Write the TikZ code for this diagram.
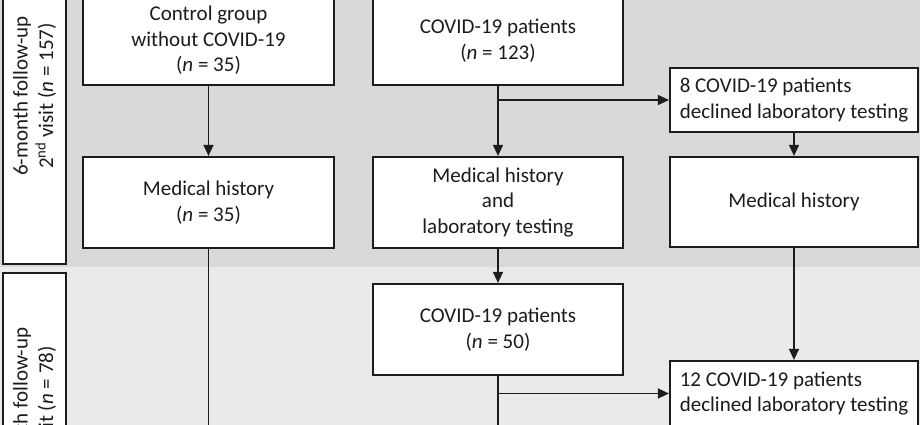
\documentclass[tikz,border=0pt]{standalone}
\usepackage{fontspec}
\setmainfont{Carlito}
\usetikzlibrary{arrows.meta}
\definecolor{bandA}{HTML}{D9D9D9}
\definecolor{bandB}{HTML}{E9EBEA}
\definecolor{ink}{HTML}{1C1C1C}
\tikzset{
  box/.style={draw=ink, line width=2.2pt, fill=white, inner sep=0pt, align=center,
    font=\fontsize{21}{25.5}\selectfont, text=ink},
  lbox/.style={box, align=left},
  conn/.style={draw=ink, line width=1.4pt},
  arr/.style={conn, -{Triangle[length=11pt,width=10pt]}}
}
\begin{document}
\begin{tikzpicture}[x=1pt,y=-1pt]
\useasboundingbox (0,0) rectangle (920,425);
\clip (0,0) rectangle (920,425);
\fill[bandA] (-2,-2) rectangle (922,267);
\fill[bandB] (-2,267) rectangle (922,427);

% stage labels
\node[box, rotate=90, minimum width=336pt, minimum height=63pt] (lab1) at (34.5,96)
  {6-month follow-up\\2\textsuperscript{nd} visit (\textit{n} = 157)};
\node[box, rotate=90, minimum width=279pt, minimum height=63pt] (lab2) at (34.5,412.5)
  {12-month follow-up\\3\textsuperscript{rd} visit (\textit{n} = 78)};

% top row
\node[box, minimum width=251pt, minimum height=89pt] (ctrl) at (208.5,40.5)
  {Control group\\without COVID-19\\(\textit{n} = 35)};
\node[box, minimum width=250pt, minimum height=89pt] (cov) at (498,40.5)
  {COVID-19 patients\\(\textit{n} = 123)};
\node[lbox, minimum width=248pt, minimum height=64pt] (dec1) at (794,100)
  {8 COVID-19 patients\\declined laboratory testing};

% second row
\node[box, minimum width=251pt, minimum height=91pt] (mhL) at (208.5,202.5)
  {Medical history\\(\textit{n} = 35)};
\node[box, minimum width=250pt, minimum height=91pt] (mhM) at (498,202.5)
  {Medical history\\and\\laboratory testing};
\node[box, minimum width=248pt, minimum height=90pt] (mhR) at (794,202)
  {Medical history};

% lower band
\node[box, minimum width=250pt, minimum height=91pt] (c50) at (498,329.5)
  {COVID-19 patients\\(\textit{n} = 50)};
\node[lbox, minimum width=248pt, minimum height=65pt] (dec2) at (794,393.5)
  {12 COVID-19 patients\\declined laboratory testing};

% connectors
\coordinate (b1) at (cov.south |- dec1.west);
\coordinate (b2) at (c50.south |- dec2.west);
\coordinate (endL) at (208.5,440);
\coordinate (endM) at (498,440);
\draw[arr] (ctrl) -- (mhL);
\draw[arr] (cov) -- (mhM);
\draw[arr] (b1) -- (dec1);
\draw[arr] (dec1) -- (mhR);
\draw[arr] (mhM) -- (c50);
\draw[arr] (mhR) -- (dec2);
\draw[conn] (mhL) -- (endL);
\draw[conn] (c50) -- (endM);
\draw[arr] (b2) -- (dec2);
\end{tikzpicture}
\end{document}
